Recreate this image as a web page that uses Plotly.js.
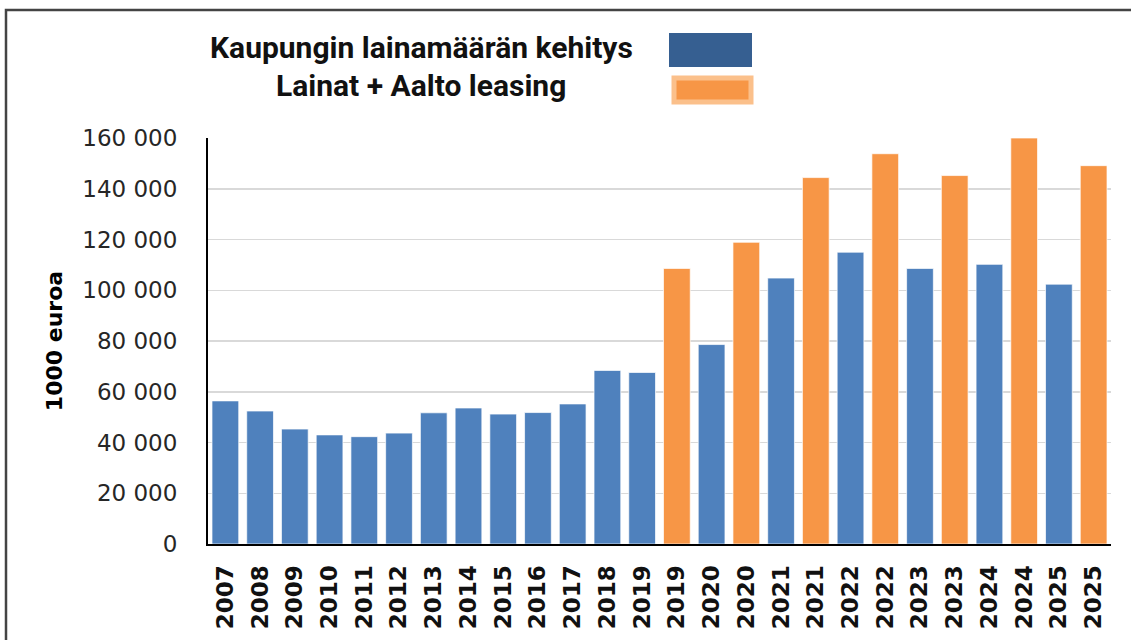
<!DOCTYPE html>
<html>
<head>
<meta charset="utf-8">
<script src="https://cdn.plot.ly/plotly-3.0.1.min.js"></script>
<style>html,body{margin:0;padding:0;background:#fff;}#chart{width:1131px;height:640px;}</style>
</head>
<body>
<div id="chart"></div>
<script>
// ---- Data (1000 euroa) ----
const loanYears = ['2007','2008','2009','2010','2011','2012','2013','2014','2015','2016','2017','2018','2019','2020','2021','2022','2023','2024','2025'];
const loanValues = [56400, 52400, 45300, 43000, 42300, 43700, 51700, 53600, 51200, 51800, 55200, 68400, 67600, 78600, 104800, 115000, 108600, 110200, 102400];
const leasingYears = ['2019','2020','2021','2022','2023','2024','2025'];
const leasingValues = [108600, 118900, 144400, 153800, 145200, 160000, 149100];
const seriesNames = ['Kaupungin lainamäärän kehitys', 'Lainat + Aalto leasing'];
const yTickValues = [0, 20000, 40000, 60000, 80000, 100000, 120000, 140000, 160000];
const yTitle = '1000 euroa';

// ---- Build bar order: each year's loan bar, followed by its leasing bar if any ----
const tickLabels = [];
const loanX = [], leasingX = [];
loanYears.forEach((yr, i) => {
  loanX.push(tickLabels.length); tickLabels.push(yr);
  const j = leasingYears.indexOf(yr);
  if (j >= 0) { leasingX[j] = tickLabels.length; tickLabels.push(yr); }
});
const tickVals = tickLabels.map((_, i) => i);

const W = 1131, H = 640;
const M = {l: 208, r: 20, t: 138, b: 96};
const px = x => (x - M.l) / (W - M.l - M.r);
const py = y => (H - M.b - y) / (H - M.t - M.b);
const BAR_W = 0.77;

const traces = [
  {type: 'bar', name: seriesNames[0], x: loanX, y: loanValues, width: BAR_W,
   marker: {color: '#4F81BD', line: {color: 'rgba(255,255,255,0.7)', width: 1}},
   showlegend: false, hoverinfo: 'y'},
  {type: 'bar', name: seriesNames[1], x: leasingX, y: leasingValues, width: BAR_W,
   marker: {color: '#F79646', line: {color: 'rgba(255,255,255,0.7)', width: 1}},
   showlegend: false, hoverinfo: 'y'}
];

const layout = {
  width: W, height: H,
  margin: M,
  paper_bgcolor: '#ffffff', plot_bgcolor: '#ffffff',
  separators: ', ',
  barmode: 'overlay',
  xaxis: {
    range: [-0.5, tickLabels.length - 0.5],
    tickmode: 'array', tickvals: tickVals, ticktext: tickLabels,
    tickangle: -90,
    tickfont: {family: 'DejaVu Sans', size: 23, color: '#111', weight: 'bold'},
    showgrid: false, zeroline: false,
    showline: true, linecolor: '#000', linewidth: 2,
    ticks: '', ticklabelstandoff: 10,
    fixedrange: true
  },
  yaxis: {
    range: [0, 160000],
    tickmode: 'array', tickvals: yTickValues,
    tickformat: ',d',
    tickfont: {family: 'DejaVu Sans', size: 23, color: '#262626'},
    showgrid: true, gridcolor: '#d9d9d9', gridwidth: 1.5,
    zeroline: false,
    showline: true, linecolor: '#000', linewidth: 2,
    ticks: '', ticklabelstandoff: 24,
    title: {text: yTitle, font: {family: 'DejaVu Sans', size: 22, color: '#000', weight: 'bold'}, standoff: 14},
    fixedrange: true
  },
  shapes: [
    {type: 'rect', xref: 'paper', yref: 'paper', x0: px(6), x1: px(1145), y0: py(10), y1: py(660),
     line: {color: '#444', width: 2.5}, fillcolor: 'rgba(0,0,0,0)', layer: 'above'},
    {type: 'rect', xref: 'paper', yref: 'paper', x0: px(669), x1: px(752), y0: py(33), y1: py(67),
     line: {width: 0}, fillcolor: '#365F91'},
    {type: 'rect', xref: 'paper', yref: 'paper', x0: px(674), x1: px(751), y0: py(78), y1: py(102),
     line: {color: '#FBC08B', width: 5}, fillcolor: '#F79646'}
  ],
  annotations: [
    {xref: 'paper', yref: 'paper', x: px(421), y: py(48), xanchor: 'center', yanchor: 'middle', showarrow: false,
     text: seriesNames[0], font: {family: 'Roboto', size: 30, color: '#111', weight: 'bold'}},
    {xref: 'paper', yref: 'paper', x: px(421), y: py(85), xanchor: 'center', yanchor: 'middle', showarrow: false,
     text: seriesNames[1], font: {family: 'Roboto', size: 30, color: '#111', weight: 'bold'}}
  ]
};

Plotly.newPlot('chart', traces, layout, {displayModeBar: false, staticPlot: true});
</script>
</body>
</html>
